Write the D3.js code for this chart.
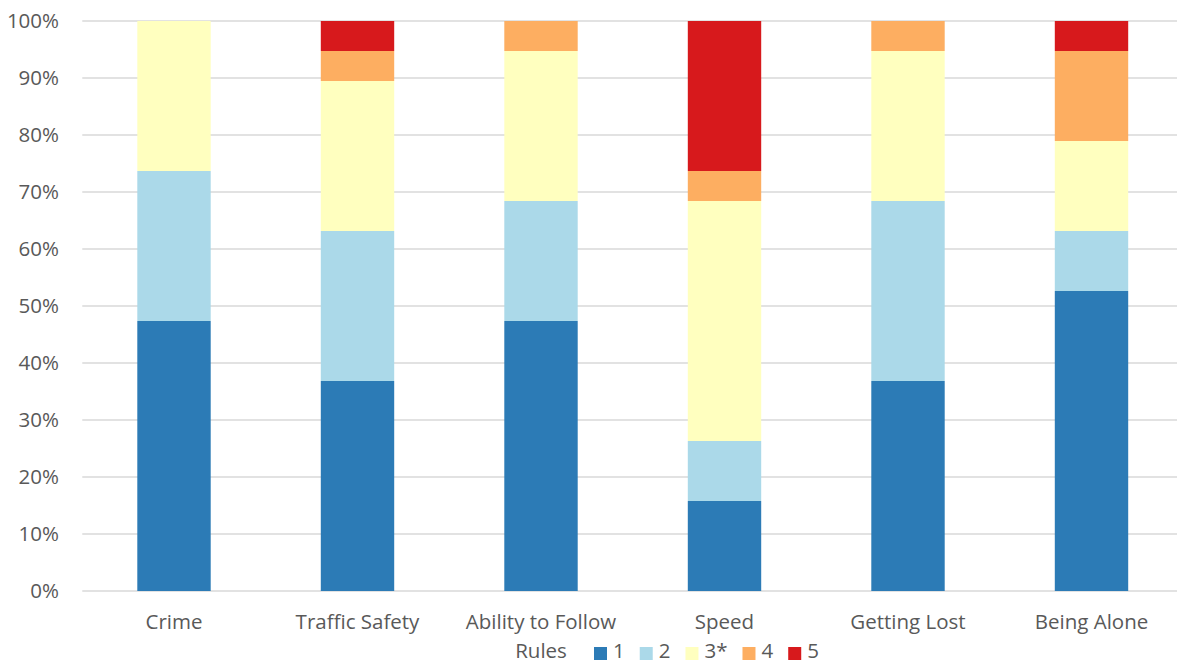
<!DOCTYPE html>
<html>
<head>
<meta charset="utf-8">
<script src="https://cdn.jsdelivr.net/npm/d3@7"></script>
<style>
  html, body { margin: 0; padding: 0; background: #fff; }
  svg { display: block; font-family: "Open Sans", sans-serif; }
</style>
</head>
<body>
<svg id="chart" width="1177" height="664"></svg>
<script>
// Survey responses (19 respondents per category), rating 1..5
const categories = ["Crime", "Traffic Safety", "Ability to Follow Rules", "Speed", "Getting Lost", "Being Alone"];
const categoryLines = [["Crime"], ["Traffic Safety"], ["Ability to Follow", "Rules"], ["Speed"], ["Getting Lost"], ["Being Alone"]];
const seriesNames = ["1", "2", "3*", "4", "5"];
const r1 = [9, 7, 9, 3, 7, 10];
const r2 = [5, 5, 4, 2, 6, 2];
const r3 = [5, 5, 5, 8, 5, 3];
const r4 = [0, 1, 1, 1, 1, 3];
const r5 = [0, 1, 0, 5, 0, 1];
const colors = ["#2c7bb6", "#abd9e9", "#ffffbf", "#fdae61", "#d7191c"];
const yTicks = [0, 0.1, 0.2, 0.3, 0.4, 0.5, 0.6, 0.7, 0.8, 0.9, 1.0];

const svg = d3.select("#chart");
const plotLeft = 82.25, plotRight = 1183.25, plotTop = 21, plotBottom = 591;
const fontSize = 20.5;

const rows = categories.map((c, i) => {
  const vals = [r1[i], r2[i], r3[i], r4[i], r5[i]];
  const total = d3.sum(vals);
  const row = { category: c };
  seriesNames.forEach((s, k) => row[s] = vals[k] / total);
  return row;
});

const x = d3.scaleBand().domain(categories).range([plotLeft, plotRight]).paddingInner(0.6).paddingOuter(0.3);
const y = d3.scaleLinear().domain([0, 1]).range([plotBottom, plotTop]);
const color = d3.scaleOrdinal().domain(seriesNames).range(colors);

// gridlines
svg.append("g")
  .selectAll("line")
  .data(yTicks)
  .join("line")
  .attr("x1", plotLeft).attr("x2", 1177)
  .attr("y1", d => y(d)).attr("y2", d => y(d))
  .attr("stroke", "#d9d9d9").attr("stroke-width", 1.3);

// y tick labels
svg.append("g")
  .selectAll("text")
  .data(yTicks)
  .join("text")
  .attr("x", 59).attr("y", d => y(d))
  .attr("dy", "0.35em")
  .attr("text-anchor", "end")
  .attr("font-size", fontSize)
  .attr("fill", "#595959")
  .text(d => d3.format(".0%")(d));

// stacked bars
const stacked = d3.stack().keys(seriesNames)(rows);
svg.append("g")
  .selectAll("g")
  .data(stacked)
  .join("g")
  .attr("fill", d => color(d.key))
  .selectAll("rect")
  .data(d => d)
  .join("rect")
  .attr("x", d => x(d.data.category))
  .attr("width", x.bandwidth())
  .attr("y", d => y(d[1]))
  .attr("height", d => y(d[0]) - y(d[1]));

// category labels
const cat = svg.append("g")
  .selectAll("text")
  .data(categories)
  .join("text")
  .attr("x", d => x(d) + x.bandwidth() / 2)
  .attr("y", 629)
  .attr("text-anchor", "middle")
  .attr("font-size", fontSize)
  .attr("fill", "#595959");
cat.selectAll("tspan")
  .data((d, i) => categoryLines[i])
  .join("tspan")
  .attr("x", function () { return d3.select(this.parentNode).attr("x"); })
  .attr("dy", (d, i) => i === 0 ? 0 : 29)
  .text(d => d);

// legend
const legend = svg.append("g");
let lx = 594;
seriesNames.forEach(s => {
  legend.append("rect")
    .attr("x", lx).attr("y", 647)
    .attr("width", 13).attr("height", 13)
    .attr("fill", color(s));
  const t = legend.append("text")
    .attr("x", lx + 19).attr("y", 658)
    .attr("font-size", fontSize)
    .attr("fill", "#595959")
    .text(s);
  lx += 19 + t.node().getComputedTextLength() + 15;
});
</script>
</body>
</html>
